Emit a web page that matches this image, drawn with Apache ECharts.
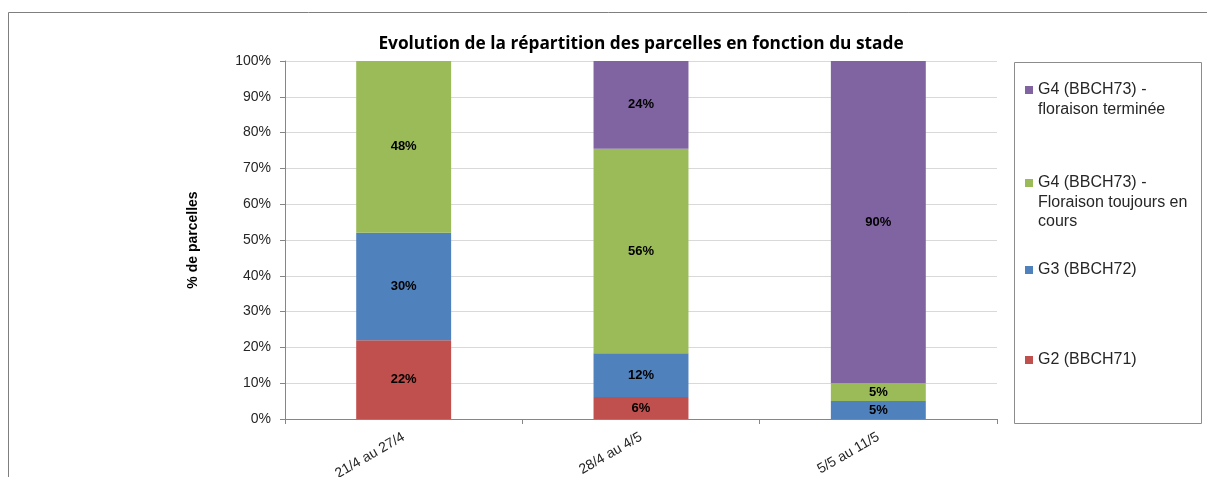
<!DOCTYPE html>
<html><head><meta charset="utf-8">
<script src="https://cdn.jsdelivr.net/npm/echarts@6/dist/echarts.min.js"></script>
<style>html,body{margin:0;padding:0;background:#fff;}#c{width:1207px;height:477px;}</style>
</head><body><div id="c"></div>
<script>
const categories = ['21/4 au 27/4', '28/4 au 4/5', '5/5 au 11/5'];
const seriesNames = ['G2 (BBCH71)', 'G3 (BBCH72)', 'G4 (BBCH73) - Floraison toujours en cours', 'G4 (BBCH73) - floraison terminée'];
const legendLines = [['G2 (BBCH71)'], ['G3 (BBCH72)'], ['G4 (BBCH73) -', 'Floraison toujours en', 'cours'], ['G4 (BBCH73) -', 'floraison terminée']];
const g2Values = [22, 6, 0];
const g3Values = [30, 12, 5];
const g4CoursValues = [48, 56, 5];
const g4TermValues = [0, 24, 90];
const yTicks = [0, 10, 20, 30, 40, 50, 60, 70, 80, 90, 100];
const colors = ['#C0504D', '#4F81BD', '#9BBB59', '#8064A2'];

const raw = [g2Values, g3Values, g4CoursValues, g4TermValues];
const totals = categories.map((c, i) => raw.reduce((s, a) => s + a[i], 0));

const series = raw.map((vals, k) => ({
  name: seriesNames[k],
  type: 'bar',
  stack: 'total',
  barWidth: '40%',
  itemStyle: { color: colors[k] },
  data: vals.map((v, i) => ({ value: v / totals[i] * 100, raw: v })),
  label: {
    show: true, position: 'inside', color: '#000', fontWeight: 'bold', fontSize: 13,
    fontFamily: 'Liberation Sans, Arial, sans-serif',
    formatter: p => p.data.raw > 0 ? p.data.raw + '%' : ''
  }
}));

const LH = 19.5;
const legendCenters = [360, 270, 183, 90];
const legends = seriesNames.map((n, k) => {
  const lines = legendLines[k].length;
  const text = new Array(lines - 1).fill('').concat(legendLines[k]).join('\n');
  return {
    data: [n], left: 1025, top: legendCenters[k] - Math.max(4, (2 * lines - 1) * LH / 2),
    orient: 'vertical', padding: 0, itemWidth: 8, itemHeight: 8, itemGap: 0,
    icon: 'rect', selectedMode: false,
    formatter: () => text,
    textStyle: { fontSize: 16, color: '#262626', fontFamily: 'Liberation Sans, Arial, sans-serif', lineHeight: LH }
  };
});

const chart = echarts.init(document.getElementById('c'));
chart.setOption({
  animation: false,
  backgroundColor: '#fff',
  title: {
    text: 'Evolution de la répartition des parcelles en fonction du stade',
    left: 636, textAlign: 'center', top: 31,
    textStyle: { fontSize: 17.3, fontWeight: 'bold', color: '#000', fontFamily: 'Open Sans, sans-serif' }
  },
  graphic: [
    { type: 'rect', shape: { x: 8.5, y: 12.5, width: 1250, height: 500 }, style: { fill: 'none', stroke: '#7f7f7f', lineWidth: 1 }, silent: true },
    { type: 'rect', shape: { x: 1014.5, y: 62.5, width: 187, height: 361 }, style: { fill: 'none', stroke: '#8c8c8c', lineWidth: 1 }, silent: true }
  ],
  legend: legends,
  grid: { left: 285, right: 210, top: 61, bottom: 58, containLabel: false, outerBoundsMode: 'none' },
  xAxis: {
    type: 'category', data: categories,
    axisLine: { lineStyle: { color: '#868686' } },
    axisTick: { show: true, alignWithLabel: false, length: 5, lineStyle: { color: '#868686' } },
    axisLabel: { rotate: 30, fontSize: 14, color: '#262626', margin: 17, fontFamily: 'Liberation Sans, Arial, sans-serif' }
  },
  yAxis: {
    type: 'value', min: 0, max: 100, interval: 10,
    name: '% de parcelles', nameLocation: 'middle', nameGap: 85, nameRotate: 90,
    nameTextStyle: { fontSize: 14, fontWeight: 'bold', color: '#000', fontFamily: 'Liberation Sans, Arial, sans-serif' },
    axisLine: { show: true, lineStyle: { color: '#868686' } },
    axisTick: { show: true, length: 5, lineStyle: { color: '#868686' } },
    axisLabel: { formatter: v => yTicks.includes(v) ? v + '%' : '', fontSize: 14, color: '#262626', margin: 14, fontFamily: 'Liberation Sans, Arial, sans-serif' },
    splitLine: { lineStyle: { color: '#d9d9d9' } }
  },
  series: series
});
</script></body></html>
